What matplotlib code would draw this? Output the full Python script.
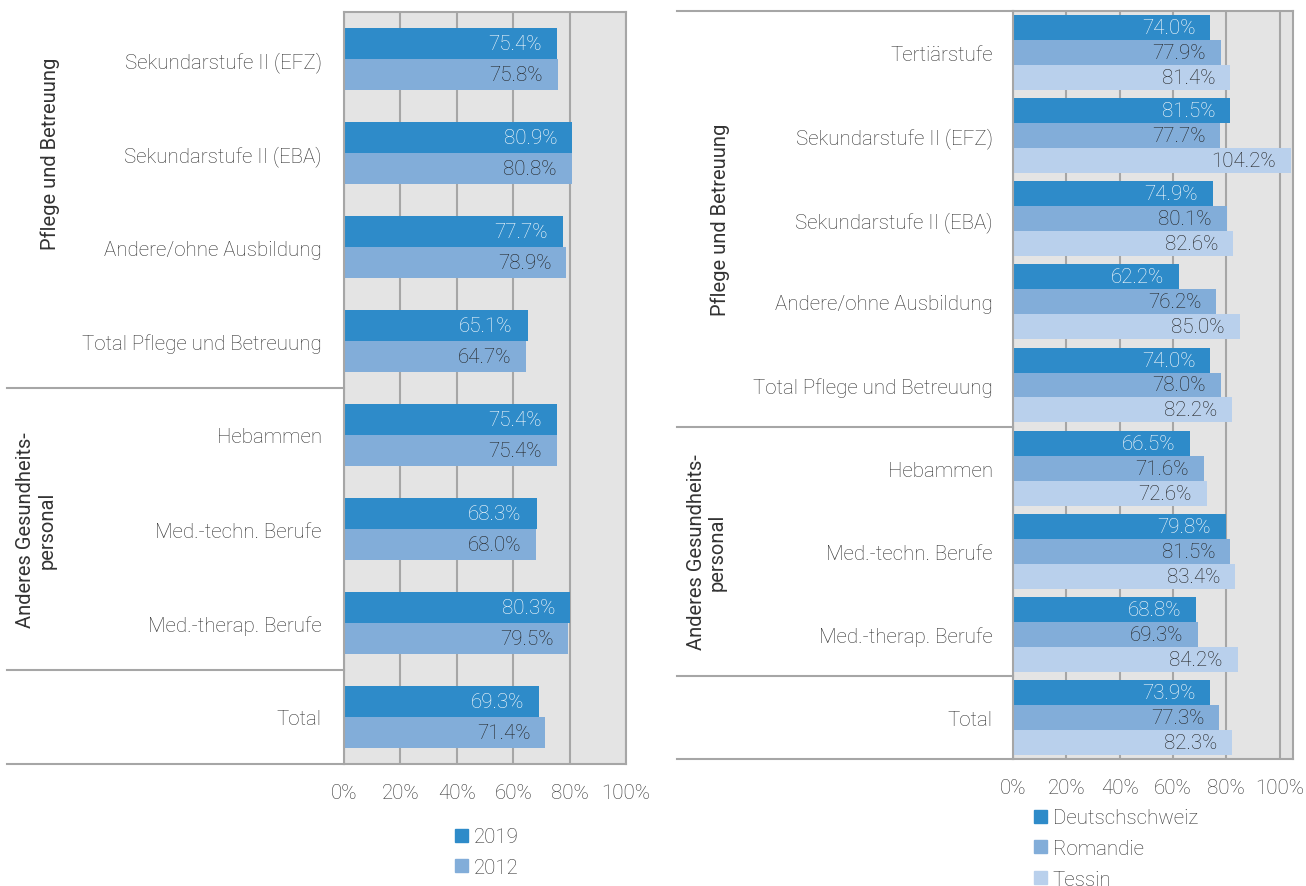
import numpy as np
import matplotlib
matplotlib.use("Agg")
import matplotlib.pyplot as plt
from matplotlib.patches import Patch

plt.rcParams['font.family'] = ['Roboto', 'DejaVu Sans']

# --- Daten links (2019 / 2012)
kat_links = ["Sekundarstufe II (EFZ)", "Sekundarstufe II (EBA)", "Andere/ohne Ausbildung",
             "Total Pflege und Betreuung", "Hebammen", "Med.-techn. Berufe",
             "Med.-therap. Berufe", "Total"]
werte_2019 = [75.4, 80.9, 77.7, 65.1, 75.4, 68.3, 80.3, 69.3]
werte_2012 = [75.8, 80.8, 78.9, 64.7, 75.4, 68.0, 79.5, 71.4]

# --- Daten rechts (Sprachregionen)
kat_rechts = ["Tertiärstufe", "Sekundarstufe II (EFZ)", "Sekundarstufe II (EBA)",
              "Andere/ohne Ausbildung", "Total Pflege und Betreuung", "Hebammen",
              "Med.-techn. Berufe", "Med.-therap. Berufe", "Total"]
deutschschweiz = [74.0, 81.5, 74.9, 62.2, 74.0, 66.5, 79.8, 68.8, 73.9]
romandie = [77.9, 77.7, 80.1, 76.2, 78.0, 71.6, 81.5, 69.3, 77.3]
tessin = [81.4, 104.2, 82.6, 85.0, 82.2, 72.6, 83.4, 84.2, 82.3]

gruppe1 = "Pflege und Betreuung"
gruppe2 = "Anderes Gesundheits-\npersonal"
xticks_lbl = ["0%", "20%", "40%", "60%", "80%", "100%"]

c_dunkel = "#2E8BC9"
c_mittel = "#82ADD9"
c_hell = "#B9D0EC"
c_grau = "#A6A6A6"
c_text = "#333333"
fs = 14.8

W, H = 1306, 887
fig = plt.figure(figsize=(W / 100, H / 100), dpi=100)


def achse(px_links, px_rechts, px_oben, px_unten):
    return fig.add_axes([px_links / W, 1 - px_unten / H,
                         (px_rechts - px_links) / W, (px_unten - px_oben) / H])


def grundstil(ax, kats, xmax, ypad):
    ax.set_facecolor("#E4E4E4")
    ax.set_xlim(0, xmax)
    ax.set_ylim(len(kats) - 0.5, -0.5)
    ax.set_yticks(np.arange(len(kats)))
    ax.set_yticklabels(kats, fontsize=fs, color=c_text, fontweight='light')
    ax.set_xticks([0, 0.2, 0.4, 0.6, 0.8, 1.0])
    ax.set_xticklabels(xticks_lbl, fontsize=fs, color=c_text, fontweight='light')
    ax.tick_params(length=0)
    ax.tick_params(axis='y', pad=ypad)
    ax.tick_params(axis='x', pad=14)
    ax.grid(axis='x', color=c_grau, lw=1.5)
    ax.set_axisbelow(True)
    for s in ax.spines.values():
        s.set_color(c_grau)
        s.set_linewidth(1.5)


def balken(ax, werte, pos, hoehe, farbe, textfarbe):
    w = np.array(werte) / 100
    ax.barh(pos, w, height=hoehe, color=farbe, edgecolor='none')
    for p, v in zip(pos, werte):
        ax.annotate(f"{v:.1f}%", (v / 100, p), xytext=(-15, 0), textcoords='offset pixels',
                    ha='right', va='center', fontsize=fs, color=textfarbe, fontweight='light')


def trenner(ax, x0, ys, xmax_ende=0):
    tr = ax.get_yaxis_transform()
    for y in ys:
        ax.plot([x0, xmax_ende], [y, y], color=c_grau, lw=1.5, transform=tr, clip_on=False)


# ---------------- linkes Diagramm
ax1 = achse(344, 626, 13, 765)
grundstil(ax1, kat_links, 1.0, 16)
y1 = np.arange(len(kat_links))
balken(ax1, werte_2019, y1 - 0.165, 0.33, c_dunkel, "white")
balken(ax1, werte_2012, y1 + 0.165, 0.33, c_mittel, "#222222")
trenner(ax1, -1.195, [3.5, 6.5, 7.5])
tr1 = ax1.get_yaxis_transform()
ax1.text(-1.043, 1.0, gruppe1, rotation=90, ha='center', va='center',
         fontsize=14.5, color=c_text, transform=tr1)
ax1.text(-1.09, 5.0, gruppe2, rotation=90, ha='center', va='center',
         fontsize=14.5, color=c_text, transform=tr1, linespacing=1.15)
ax1.legend(handles=[Patch(color=c_dunkel, label="2019"), Patch(color=c_mittel, label="2012")],
           loc='upper left', bbox_to_anchor=(445 / W, 1 - 818 / H),
           bbox_transform=fig.transFigure, frameon=False,
           handlelength=0.6, handleheight=0.6, handletextpad=0.3, labelspacing=0.57,
           labelcolor=c_text, borderpad=0, prop={'weight': 'light', 'size': fs})

# ---------------- rechtes Diagramm
ax2 = achse(1013, 1293, 12, 760)
grundstil(ax2, kat_rechts, 1.05, 14.5)
y2 = np.arange(len(kat_rechts))
balken(ax2, deutschschweiz, y2 - 0.3, 0.3, c_dunkel, "white")
balken(ax2, romandie, y2, 0.3, c_mittel, "#222222")
balken(ax2, tessin, y2 + 0.3, 0.3, c_hell, "#222222")
trenner(ax2, -1.2, [-0.5, 4.5, 7.5, 8.5])
tr2 = ax2.get_yaxis_transform()
ax2.text(-1.046, 2.0, gruppe1, rotation=90, ha='center', va='center',
         fontsize=14.5, color=c_text, transform=tr2)
ax2.text(-1.093, 6.0, gruppe2, rotation=90, ha='center', va='center',
         fontsize=14.5, color=c_text, transform=tr2, linespacing=1.15)
ax2.legend(handles=[Patch(color=c_dunkel, label="Deutschschweiz"),
                    Patch(color=c_mittel, label="Romandie"),
                    Patch(color=c_hell, label="Tessin")],
           loc='upper left', bbox_to_anchor=(1024 / W, 1 - 799 / H),
           bbox_transform=fig.transFigure, frameon=False,
           handlelength=0.6, handleheight=0.6, handletextpad=0.3, labelspacing=0.57,
           labelcolor=c_text, borderpad=0, prop={'weight': 'light', 'size': fs})

fig.savefig("out.png", dpi=100)
